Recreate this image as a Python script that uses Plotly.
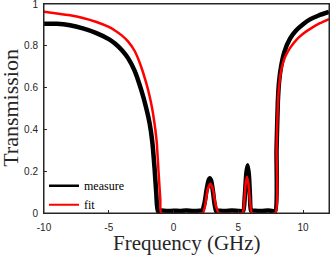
import plotly.graph_objects as go

# ---- data ----
measure_x = [-10, -9, -8, -7, -6, -5, -4.5, -4, -3.5, -3.0, -2.5, -2.1, -1.85, -1.64, -1.46, -1.33, -1.22,
             -1.0, -0.5, 0, 0.5, 1.0, 1.5, 2.0, 2.2,
             2.4, 2.55, 2.7, 2.8, 2.9, 3.05, 3.15, 3.28,
             3.6, 4.0, 4.5, 5.0, 5.38,
             5.5, 5.62, 5.72, 5.82, 5.9, 5.98,
             6.3, 6.8, 7.3, 7.85,
             7.95, 8.05, 8.15, 8.3, 8.55, 9.0, 9.44, 10.0, 10.5, 11.2, 12.0]
measure_y = [0.905, 0.905, 0.898, 0.883, 0.862, 0.832, 0.81, 0.78, 0.74, 0.68, 0.59, 0.50, 0.43, 0.34, 0.21, 0.09, 0.01,
             0.012, 0.009, 0.011, 0.010, 0.012, 0.009, 0.011, 0.01,
             0.05, 0.11, 0.155, 0.166, 0.155, 0.10, 0.05, 0.01,
             0.011, 0.009, 0.012, 0.010, 0.01,
             0.08, 0.19, 0.229, 0.18, 0.08, 0.01,
             0.011, 0.009, 0.012, 0.01,
             0.30, 0.53, 0.63, 0.70, 0.77, 0.835, 0.872, 0.903, 0.925, 0.945, 0.962]

fit_x = [-10, -9, -8, -7, -6, -5, -4.5, -4, -3.5, -3.0, -2.5, -2.1, -1.85, -1.65, -1.45, -1.3, -1.15, -1.02, -0.95,
         2.26, 2.45, 2.62, 2.85, 3.05, 3.25, 3.49,
         5.33, 5.45, 5.57, 5.67, 5.78, 5.92, 6.05,
         7.85, 7.95, 8.05, 8.15, 8.3, 8.6, 9.0, 9.5, 10.0, 10.7, 11.3, 12.0]
fit_y = [0.963, 0.955, 0.946, 0.933, 0.915, 0.89, 0.872, 0.85, 0.82, 0.775, 0.70, 0.62, 0.56, 0.50, 0.42, 0.34, 0.19, 0.063, 0.0,
         0.0, 0.04, 0.11, 0.14, 0.11, 0.04, 0.0,
         0.0, 0.05, 0.14, 0.174, 0.14, 0.05, 0.0,
         0.0, 0.30, 0.52, 0.61, 0.68, 0.745, 0.79, 0.83, 0.858, 0.887, 0.908, 0.928]

x_ticks = [-10, -5, 0, 5, 10]
y_ticks = [0, 0.2, 0.4, 0.6, 0.8, 1]
y_tick_labels = ["0", "0.2", "0.4", "0.6", "0.8", "1"]
x_title = "Frequency (GHz)"
y_title = "Transmission"

axis_col = "#262626"

fig = go.Figure()
fig.add_trace(go.Scatter(x=measure_x, y=measure_y, mode="lines", name="measure", showlegend=False,
                         legendgroup="m",
                         line=dict(color="black", width=4.5, shape="spline", smoothing=0.5)))
fig.add_trace(go.Scatter(x=fit_x, y=fit_y, mode="lines", name="fit", showlegend=False,
                         legendgroup="f",
                         line=dict(color="#ff0000", width=2.5, shape="spline", smoothing=0.5)))
# legend entries (thinner sample lines, as in the reference)
fig.add_trace(go.Scatter(x=[None], y=[None], mode="lines", name="measure", legendgroup="m",
                         line=dict(color="black", width=2.5)))
fig.add_trace(go.Scatter(x=[None], y=[None], mode="lines", name="fit", legendgroup="f",
                         line=dict(color="#ff0000", width=2)))

fig.update_layout(
    width=332, height=256,
    margin=dict(l=44, r=3, t=4, b=43, autoexpand=False),
    paper_bgcolor="white", plot_bgcolor="white",
    showlegend=True,
    legend=dict(x=0.0, y=0.2, xanchor="left", yanchor="top",
                bgcolor="rgba(0,0,0,0)", borderwidth=0,
                font=dict(family="Liberation Serif", size=12, color="black"),
                itemwidth=30, tracegroupgap=0),
    shapes=[dict(type="rect", xref="paper", yref="paper", x0=0, x1=1, y0=0, y1=1,
                 line=dict(color=axis_col, width=1), fillcolor="rgba(0,0,0,0)", layer="above")],
    annotations=[
        dict(text=x_title, xref="paper", yref="paper", x=0.5, y=-0.145, xanchor="center", yanchor="middle",
             showarrow=False, font=dict(family="Liberation Serif", size=21, color=axis_col)),
        dict(text=y_title, xref="paper", yref="paper", x=-0.118, y=0.505, xanchor="center", yanchor="middle",
             textangle=-90, showarrow=False, font=dict(family="Liberation Serif", size=22, color=axis_col)),
    ],
)
fig.update_xaxes(range=[-10, 12], tickvals=x_ticks, ticktext=[str(v) for v in x_ticks],
                 showgrid=False, zeroline=False, showline=True, linecolor=axis_col, linewidth=1,
                 mirror=True, ticks="inside", ticklen=3, tickcolor=axis_col, automargin=False,
                 ticklabelstandoff=5, ticklabeloverflow="allow",
                 tickfont=dict(family="Liberation Sans", size=10, color=axis_col))
fig.update_yaxes(range=[0, 1], tickvals=y_ticks, ticktext=y_tick_labels,
                 showgrid=False, zeroline=False, showline=True, linecolor=axis_col, linewidth=1,
                 mirror=True, ticks="inside", ticklen=3, tickcolor=axis_col, automargin=False,
                 ticklabelstandoff=3, ticklabeloverflow="allow",
                 tickfont=dict(family="Liberation Sans", size=10, color=axis_col))

fig.write_html("out.html", config={"displayModeBar": False},
               post_script="document.body.style.margin='0';document.body.style.overflow='hidden';")
